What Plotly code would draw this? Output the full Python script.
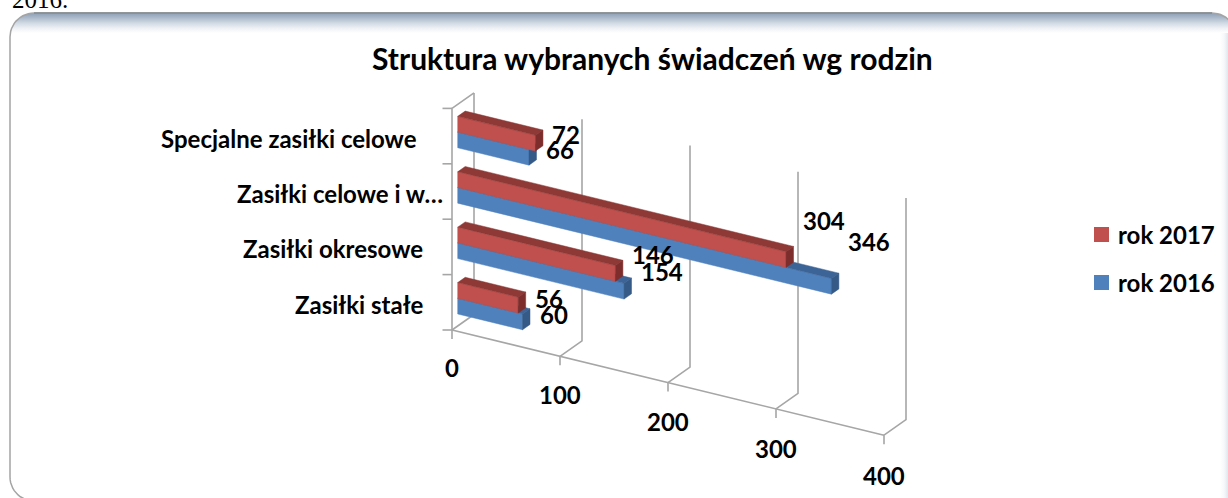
import plotly.graph_objects as go
import numpy as np

categories = ["Zasiłki stałe", "Zasiłki okresowe", "Zasiłki celowe i w…", "Specjalne zasiłki celowe"]
rok_2016 = [60, 154, 346, 66]
rok_2017 = [56, 146, 304, 72]
value_ticks = [0, 100, 200, 300, 400]
title = "Struktura wybranych świadczeń wg rodzin"

W, H = 1228, 498
FONT = "Lato"
GRID = "#A6A6A6"
# oblique projection of the chart box on to the page
ORIGIN = (452.0, 330.0)
UX, UY = 1.08, 0.263      # page shift per unit of value
DX, DY = 22.0, -15.5      # page shift over the whole depth
BAND = 55.4               # height of one category
WALL = 221.6
T0, T1 = 0.26, 0.60       # depth occupied by the bars
GAP = 12.0
THICK = 15.7


def project(v, t=0.0, h=0.0):
    return (ORIGIN[0] + UX * v + DX * t, ORIGIN[1] + UY * v + DY * t - h)


def polyline(points):
    return [p[0] for p in points], [p[1] for p in points]


def rounded(x0, y0, x1, y1, r, n=14):
    pts = []
    for cx, cy, a0 in [(x0 + r, y0 + r, np.pi), (x1 - r, y0 + r, 1.5 * np.pi),
                       (x1 - r, y1 - r, 0), (x0 + r, y1 - r, 0.5 * np.pi)]:
        for a in np.linspace(a0, a0 + np.pi / 2, n):
            pts.append((cx + r * np.cos(a), cy + r * np.sin(a)))
    pts.append(pts[0])
    return polyline(pts)


fig = go.Figure()

# panel frame with a gradient band along the top; its right and bottom edges run off the page
F_LEFT, F_TOP, F_RIGHT, F_BOT, F_R = 10, 13, 1236, 501, 24


def frac(y):
    return (y - F_TOP) / (F_BOT - F_TOP)


fx, fy = rounded(F_LEFT, F_TOP, F_RIGHT, F_BOT, F_R)
fig.add_trace(go.Scatter(
    x=fx, y=fy, mode="lines", fill="toself", hoverinfo="skip",
    line=dict(color="#A4A4A4", width=1.5),
    fillgradient=dict(type="vertical", start=F_TOP, stop=F_BOT,
                      colorscale=[[0, "#8C9FB6"], [frac(18), "#AEBBCC"], [frac(23), "#D0D9E3"],
                                  [frac(28), "#EDF0F4"], [frac(33), "#FFFFFF"], [1, "#FFFFFF"]]),
))
fig.add_trace(go.Scatter(
    x=[1220, 1228, 1228, 1220, 1220], y=[33, 33, 498, 498, 33], mode="lines", fill="toself",
    hoverinfo="skip", line=dict(width=0),
    fillgradient=dict(type="horizontal", start=1220, stop=1228,
                      colorscale=[[0, "#FFFFFF"], [0.5, "#F6F8FA"], [1, "#E2E7EE"]]),
))
fig.add_trace(go.Scatter(x=[F_LEFT + F_R, F_RIGHT - F_R], y=[F_TOP, F_TOP], mode="lines", hoverinfo="skip",
                         line=dict(color="#82898F", width=1.6)))


def line_trace(points, color=GRID, width=1.6):
    x, y = polyline(points)
    fig.add_trace(go.Scatter(x=x, y=y, mode="lines", hoverinfo="skip",
                             line=dict(color=color, width=width)))


# walls and floor grid
for v in value_ticks:
    front = project(v)
    back = project(v, 1.0)
    top = project(v, 1.0, WALL)
    line_trace([(front[0], front[1] + 9), front, back, top])
line_trace([project(0), project(value_ticks[-1])])
line_trace([project(0), project(0, 0, WALL), project(0, 1.0, WALL)])
for i in range(len(categories) + 1):
    p = project(0, 0, i * BAND)
    line_trace([(p[0] - 9.5, p[1]), p])


def faces(values, lo_shift):
    front_x, front_y, top_x, top_y, side_x, side_y = [], [], [], [], [], []
    for i, v in enumerate(values):
        lo = i * BAND + GAP + lo_shift
        hi = lo + THICK
        for xs, ys, pts in [
            (front_x, front_y, [project(0, T0, lo), project(v, T0, lo), project(v, T0, hi), project(0, T0, hi)]),
            (top_x, top_y, [project(0, T0, hi), project(v, T0, hi), project(v, T1, hi), project(0, T1, hi)]),
            (side_x, side_y, [project(v, T0, lo), project(v, T1, lo), project(v, T1, hi), project(v, T0, hi)]),
        ]:
            xs.extend([p[0] for p in pts] + [pts[0][0], None])
            ys.extend([p[1] for p in pts] + [pts[0][1], None])
    return (front_x, front_y), (top_x, top_y), (side_x, side_y)


SERIES = [
    ("rok 2016", rok_2016, 0.0, "#4F81BD", "#3D6496", "#355A88", 282.5),
    ("rok 2017", rok_2017, THICK, "#C0504D", "#8E3936", "#7D2E2C", 234.5),
]
for name, values, shift, c_front, c_top, c_side, _ in SERIES:
    for (x, y), col in zip(faces(values, shift), (c_front, c_top, c_side)):
        fig.add_trace(go.Scatter(x=x, y=y, mode="lines", fill="toself", fillcolor=col, name=name,
                                 hoverinfo="skip", line=dict(color=col, width=0.5)))


def label(x, y, text, size=24, anchor="center", color="#000000", bold=True, family=FONT, yshift=0):
    fig.add_annotation(x=x, y=y, text=f"<b>{text}</b>" if bold else text, showarrow=False,
                       xanchor=anchor, yanchor="middle", xref="x", yref="y", yshift=yshift,
                       font=dict(family=family, size=size, color=color))


# value labels sit right of the bar end and climb with the value
for name, values, shift, *_ in SERIES:
    for i, v in enumerate(values):
        x, y = project(v, T0, i * BAND + GAP + shift + THICK / 2)
        label(x + 15, y - 0.13 * v + 0.5, str(v), anchor="left")

# axis labels
for v in value_ticks:
    x, y = project(v)
    label(x, y + 37 + 0.008 * v, str(v))

CAT_RIGHT = [425.5, 425, 444.5, 419]
for i, c in enumerate(categories):
    label(CAT_RIGHT[i], project(0, 0, (i + 0.5) * BAND)[1] + 2, c, anchor="right")

# legend
for name, values, shift, c_front, c_top, c_side, ly in SERIES:
    fig.add_trace(go.Scatter(x=[1101.5], y=[ly], mode="markers", hoverinfo="skip",
                             marker=dict(symbol="square", size=15, color=c_front)))
    label(1115.5, ly - 0.5, name, anchor="left")

label(652, 58, title, size=30)
label(10, 0.5, "2016.", size=25, anchor="left", bold=False, family="Liberation Serif", yshift=1.5)

fig.update_layout(
    width=W, height=H, margin=dict(l=0, r=0, t=0, b=0), showlegend=False,
    paper_bgcolor="#FFFFFF", plot_bgcolor="#FFFFFF",
    xaxis=dict(range=[0, W], visible=False, fixedrange=True),
    yaxis=dict(range=[H, 0], visible=False, fixedrange=True),
)
fig.write_html("out.html", config={"displayModeBar": False},
               post_script="document.body.style.margin='0';document.body.style.overflow='hidden';")
